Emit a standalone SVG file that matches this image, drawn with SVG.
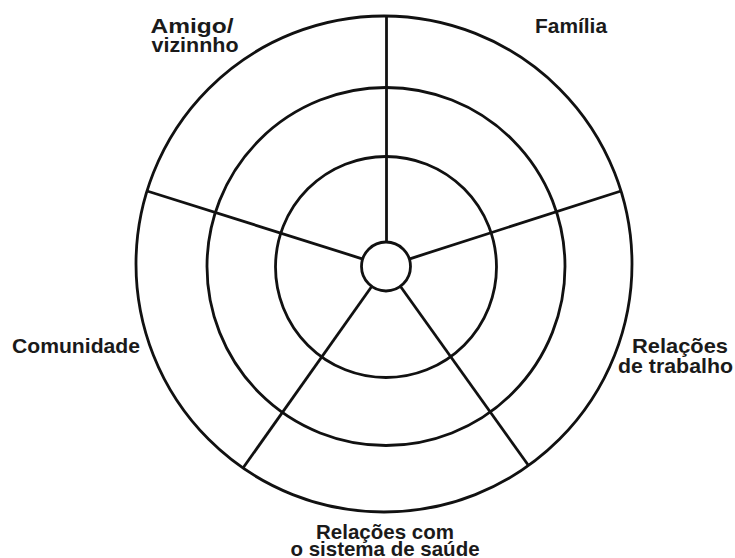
<svg xmlns="http://www.w3.org/2000/svg" width="735" height="558" viewBox="0 0 735 558">
<style>
.ring{fill:none;stroke:#111;stroke-width:2.8}
.spoke{stroke:#111;stroke-width:2.8;stroke-linecap:butt}
.lbl{font-family:"Liberation Sans",Arial,sans-serif;font-weight:bold;font-size:20.5px;fill:#1a1a1a}
</style>
<rect width="735" height="558" fill="#fff"/>
<g id="connectors">
<line class="spoke" x1="386.5" y1="16" x2="386.5" y2="242"/>
<line class="spoke" x1="147" y1="191" x2="362.2" y2="258.8"/>
<line class="spoke" x1="621" y1="191" x2="409.8" y2="258.8"/>
<line class="spoke" x1="243" y1="468" x2="371.5" y2="286.7"/>
<line class="spoke" x1="528.5" y1="465.5" x2="400.7" y2="286.7"/>
</g>
<g id="outer-ring"><circle class="ring" cx="384" cy="264" r="248"/></g>
<g id="middle-ring"><circle class="ring" cx="386" cy="266.5" r="179"/></g>
<g id="inner-ring"><circle class="ring" cx="386" cy="267" r="110.5"/></g>
<g id="hub"><circle class="ring" cx="386" cy="266.5" r="24.5"/></g>
<g id="amigo">
<text class="lbl" x="150.5" y="33" textLength="83" lengthAdjust="spacingAndGlyphs">Amigo/</text>
<text class="lbl" x="151.5" y="52" textLength="87" lengthAdjust="spacingAndGlyphs">vizinnho</text>
</g>
<g id="familia"><text class="lbl" x="535" y="33" textLength="72" lengthAdjust="spacingAndGlyphs">Família</text></g>
<g id="trabalho">
<text class="lbl" x="632" y="353" textLength="96" lengthAdjust="spacingAndGlyphs">Relações</text>
<text class="lbl" x="618" y="373" textLength="115" lengthAdjust="spacingAndGlyphs">de trabalho</text>
</g>
<g id="comunidade"><text class="lbl" x="12" y="353" textLength="128" lengthAdjust="spacingAndGlyphs">Comunidade</text></g>
<g id="saude">
<text class="lbl" x="385" y="539" text-anchor="middle">Relações com</text>
<text class="lbl" x="385" y="556" text-anchor="middle">o sistema de saúde</text>
</g>
</svg>
